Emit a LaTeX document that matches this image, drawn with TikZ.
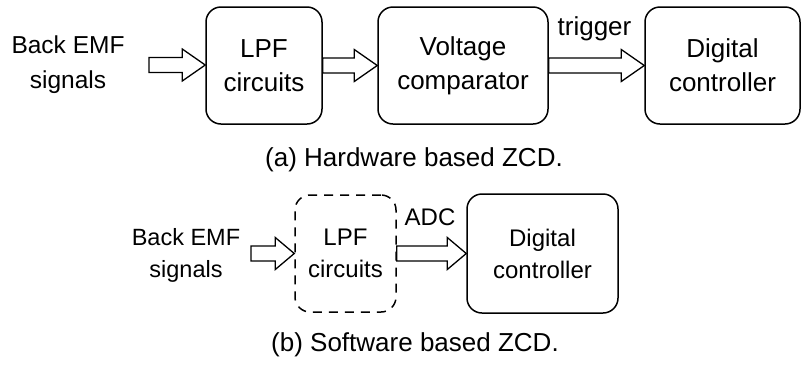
\documentclass[tikz,border=0pt]{standalone}
\usepackage{fontspec}
\setmainfont{Liberation Sans}
\usetikzlibrary{calc}
\tikzset{
  blk/.style={draw=black, line width=1.5pt, rounded corners=15pt, minimum height=117pt, inner sep=0pt, align=center, font=\fontsize{26}{34}\selectfont},
  blkb/.style={blk, font=\fontsize{24}{32}\selectfont},
  dblk/.style={blkb, dashed, dash pattern=on 9pt off 7pt},
  lbl/.style={inner sep=0pt, align=center, font=\fontsize{24.5}{35}\selectfont},
  lblb/.style={lbl, font=\fontsize{23.5}{32}\selectfont},
  captxt/.style={inner sep=0pt, font=\fontsize{26}{30}\selectfont},
  fat/.style={draw=black, line width=1.3pt, fill=white, line join=miter}
}
% block arrow: #1 start, #2 end, #3 head length
\newcommand{\fatarr}[3]{%
  \draw[fat] let \p1=(#1), \p2=(#2) in
    (\x1,\y1+7.5pt) -- (\x2-#3,\y1+7.5pt) -- (\x2-#3,\y1+16pt) -- (\x2,\y1)
    -- (\x2-#3,\y1-16pt) -- (\x2-#3,\y1-7.5pt) -- (\x1,\y1-7.5pt) -- cycle;}
\begin{document}
\begin{tikzpicture}[x=1pt,y=-1pt]
\useasboundingbox (0,0) rectangle (804,365);
% (a)
\node[lbl] (in1) at (68,65) {Back EMF\\signals};
\node[blk, minimum width=116pt] (lpf1) at (264,65.5) {LPF\\circuits};
\node[blk, minimum width=170pt] (vc) at (463,65.5) {Voltage\\comparator};
\node[blk, minimum width=155pt] (dc1) at (722.5,65.5) {Digital\\controller};
\node[lbl, font=\fontsize{26}{30}\selectfont] (trig) at (594.5,29) {trigger};
\node[captxt] (capa) at (414,160) {(a) Hardware based ZCD.};
\coordinate (s1) at (149,65);
\fatarr{s1}{lpf1.west}{23pt}
\fatarr{lpf1.east}{vc.west}{23pt}
\fatarr{vc.east}{dc1.west}{23pt}
% (b)
\node[lblb] (in2) at (186,255) {Back EMF\\signals};
\node[dblk, minimum width=101pt] (lpf2) at (345.5,253.5) {LPF\\circuits};
\node[blkb, minimum width=151pt, minimum height=119pt] (dc2) at (542.5,253.5) {Digital\\controller};
\node[lblb, font=\fontsize{24}{30}\selectfont] (adc) at (430,217) {ADC};
\node[captxt] (capb) at (415,345) {(b) Software based ZCD.};
\coordinate (s2) at (251,253.5);
\fatarr{s2}{lpf2.west}{19pt}
\fatarr{lpf2.east}{dc2.west}{19pt}
\end{tikzpicture}
\end{document}
